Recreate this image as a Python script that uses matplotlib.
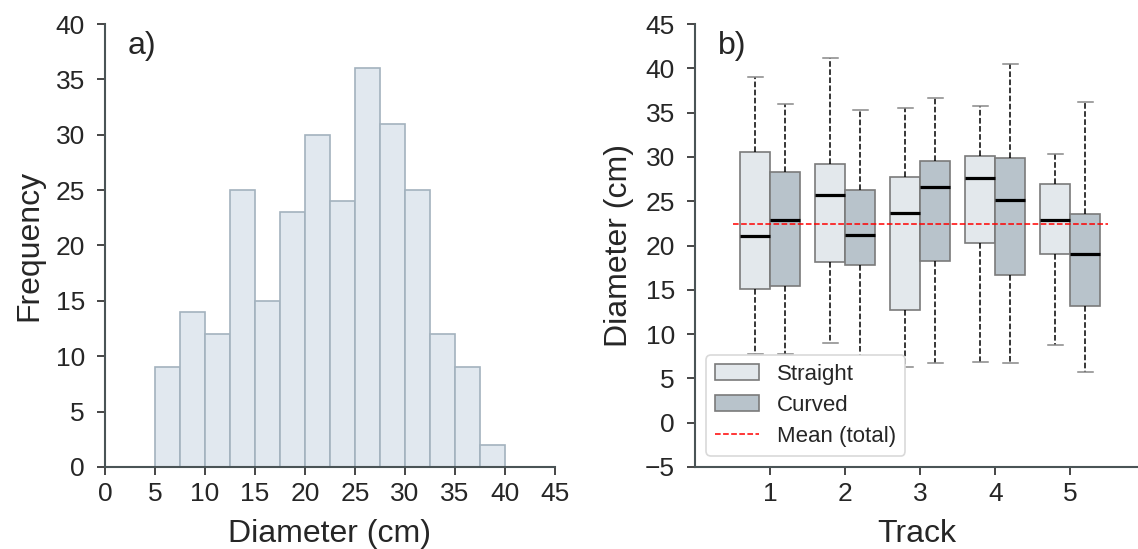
import matplotlib
matplotlib.use("Agg")
import matplotlib.pyplot as plt
from matplotlib.patches import Patch
from matplotlib.lines import Line2D

plt.rcParams['font.family'] = ['Liberation Sans', 'DejaVu Sans']

# ---- Data ----
bin_edges = [5, 7.5, 10, 12.5, 15, 17.5, 20, 22.5, 25, 27.5, 30, 32.5, 35, 37.5, 40]
hist_counts = [9, 14, 12, 25, 15, 23, 30, 24, 36, 31, 25, 12, 9, 2]

tracks = [1, 2, 3, 4, 5]
# stats per track: (whislo, q1, med, q3, whishi)
straight_stats = [
    (7.8, 15.05, 21.1, 30.6, 39.0),
    (8.95, 18.1, 25.7, 29.2, 41.2),
    (6.3, 12.7, 23.7, 27.7, 35.5),
    (6.8, 20.3, 27.6, 30.1, 35.7),
    (8.8, 19.0, 22.9, 26.9, 30.3),
]
curved_stats = [
    (7.8, 15.4, 22.9, 28.3, 36.0),
    (5.4, 17.8, 21.2, 26.3, 35.3),
    (6.7, 18.2, 26.6, 29.5, 36.7),
    (6.7, 16.7, 25.1, 29.9, 40.5),
    (5.75, 13.2, 19.0, 23.6, 36.15),
]
mean_total = 22.4

# ---- Style ----
spine_col = '#4a5456'
text_col = '#262626'
straight_col = '#e3e8ec'
curved_col = '#b8c3cb'
box_edge = '#7a7a7a'

fig = plt.figure(figsize=(11.38, 5.49), dpi=100)
ax1 = fig.add_axes([105/1138, 82/549, 450/1138, 443/549])
ax2 = fig.add_axes([695/1138, 82/549, 443/1138, 443/549])

for ax in (ax1, ax2):
    for s in ('top', 'right'):
        ax.spines[s].set_visible(False)
    for s in ('left', 'bottom'):
        ax.spines[s].set_color(spine_col)
        ax.spines[s].set_linewidth(1.5)
    ax.tick_params(axis='both', direction='out', length=5.5, width=1.2,
                   color=text_col, labelsize=19, labelcolor=text_col)
    ax.tick_params(axis='y', pad=9)
    ax.tick_params(axis='x', pad=5)

# ---- Histogram ----
widths = [bin_edges[i+1] - bin_edges[i] for i in range(len(hist_counts))]
ax1.bar(bin_edges[:-1], hist_counts, width=widths, align='edge',
        color='#e1e8ef', edgecolor='#a3b2be', linewidth=1.2)
ax1.set_xlim(0, 45)
ax1.set_ylim(0, 40)
ax1.set_xticks(range(0, 46, 5))
ax1.set_yticks(range(0, 41, 5))
ax1.set_xlabel('Diameter (cm)', fontsize=23, color=text_col, labelpad=10)
ax1.set_ylabel('Frequency', fontsize=23, color=text_col, labelpad=8)
ax1.text(0.05, 0.985, 'a)', transform=ax1.transAxes, fontsize=23,
         va='top', ha='left', color=text_col)

# ---- Boxplots ----
def make_stats(lst):
    out = []
    for lo, q1, med, q3, hi in lst:
        out.append(dict(whislo=lo, q1=q1, med=med, q3=q3, whishi=hi, fliers=[]))
    return out

common = dict(widths=0.4, patch_artist=True, showfliers=False,
              medianprops=dict(color='black', linewidth=2.3),
              whiskerprops=dict(color='black', linestyle='--', linewidth=1.1),
              capprops=dict(color='#888888', linewidth=1.1),
              boxprops=dict(edgecolor=box_edge, linewidth=1.2))
b1 = ax2.bxp(make_stats(straight_stats), positions=[t - 0.2 for t in tracks], **common)
b2 = ax2.bxp(make_stats(curved_stats), positions=[t + 0.2 for t in tracks], **common)
for p in b1['boxes']:
    p.set_facecolor(straight_col)
for p in b2['boxes']:
    p.set_facecolor(curved_col)

ax2.hlines(mean_total, 0.5, 5.5, colors='red', linestyles='--', linewidth=1.1, zorder=5)

ax2.set_xlim(0, 5.9)
ax2.set_ylim(-5, 45)
ax2.set_xticks(tracks)
ax2.set_xticklabels([str(t) for t in tracks])
ax2.set_yticks(range(-5, 46, 5))
ax2.set_yticklabels(['\u22125' if v < 0 else str(v) for v in range(-5, 46, 5)])
ax2.set_xlabel('Track', fontsize=23, color=text_col, labelpad=10)
ax2.set_ylabel('Diameter (cm)', fontsize=23, color=text_col, labelpad=8)
ax2.text(0.052, 0.985, 'b)', transform=ax2.transAxes, fontsize=23,
         va='top', ha='left', color=text_col)

handles = [Patch(facecolor=straight_col, edgecolor=box_edge, linewidth=1.2),
           Patch(facecolor=curved_col, edgecolor=box_edge, linewidth=1.2),
           Line2D([0], [0], color='red', linestyle='--', linewidth=1.1)]
leg = ax2.legend(handles, ['Straight', 'Curved', 'Mean (total)'], loc='lower left',
                 fontsize=16, frameon=True, fancybox=True, framealpha=1,
                 labelspacing=0.45, handletextpad=0.8)
leg.get_frame().set_edgecolor('#d9d9d9')
leg.get_frame().set_linewidth(1.2)
for t in leg.get_texts():
    t.set_color(text_col)

fig.savefig('out.png', dpi=100)
